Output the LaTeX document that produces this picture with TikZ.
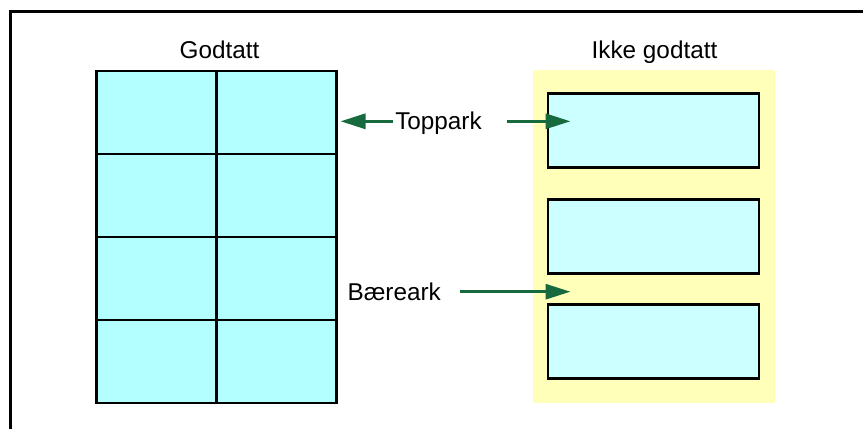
\documentclass[tikz,border=0pt]{standalone}
\usepackage{fontspec}
\setmainfont{Liberation Sans}
\usetikzlibrary{arrows.meta}
\definecolor{cellcyan}{HTML}{B3FFFF}
\definecolor{boxcyan}{HTML}{CCFFFF}
\definecolor{padyellow}{HTML}{FFFFBA}
\definecolor{arrowgreen}{RGB}{22,106,62}
\tikzset{
  cellL/.style={draw=black, fill=cellcyan, line width=2.8pt, minimum width=120pt, minimum height=83pt, inner sep=0pt, outer sep=0pt},
  boxR/.style={draw=black, fill=boxcyan, line width=2.8pt, minimum width=211pt, minimum height=74pt, inner sep=0pt, outer sep=0pt},
  lbl/.style={font=\fontsize{24.3}{28}\selectfont, anchor=base, inner sep=0pt},
  greenarrow/.style={draw=arrowgreen, line width=3pt, -{Triangle[length=25pt, width=15pt]}}
}
\begin{document}
\begin{tikzpicture}[x=1pt, y=-1pt]
\useasboundingbox (0,0) rectangle (863,429);
% frame
\draw[line width=2.7pt] (10.7,429) -- (10.7,11.3) -- (863,11.3);
% titles
\node[lbl] (godtatt) at (219.5,58.3) {Godtatt};
\node[lbl] (ikke) at (654.5,58.3) {Ikke godtatt};
% left grid
\foreach \r/\y in {1/112.5, 2/195.5, 3/278.5, 4/361.5}{
  \node[cellL] (a\r) at (156.6,\y) {};
  \node[cellL] (b\r) at (276.6,\y) {};
}
% yellow carrier
\fill[padyellow] (533,70) rectangle (775,403);
\node[boxR] (r1) at (653.5,130.4) {};
\node[boxR] (r2) at (653.5,236.2) {};
\node[boxR] (r3) at (653.5,341.7) {};
% labels
\node[lbl] (top) at (438.5,129.3) {Toppark};
\node[lbl] (bar) at (394.2,300.7) {Bæreark};
% arrow endpoints
\coordinate (tl0) at (393,121.3);
\coordinate (tl1) at (340.5,121.3);
\coordinate (tr0) at (507,121.3);
\coordinate (tr1) at (570.5,121.3);
\coordinate (b0) at (460,291.7);
\coordinate (b1) at (570.5,291.7);
\draw[greenarrow] (tl0) -- (tl1);
\draw[greenarrow] (tr0) -- (tr1);
\draw[greenarrow] (b0) -- (b1);
\end{tikzpicture}
\end{document}
